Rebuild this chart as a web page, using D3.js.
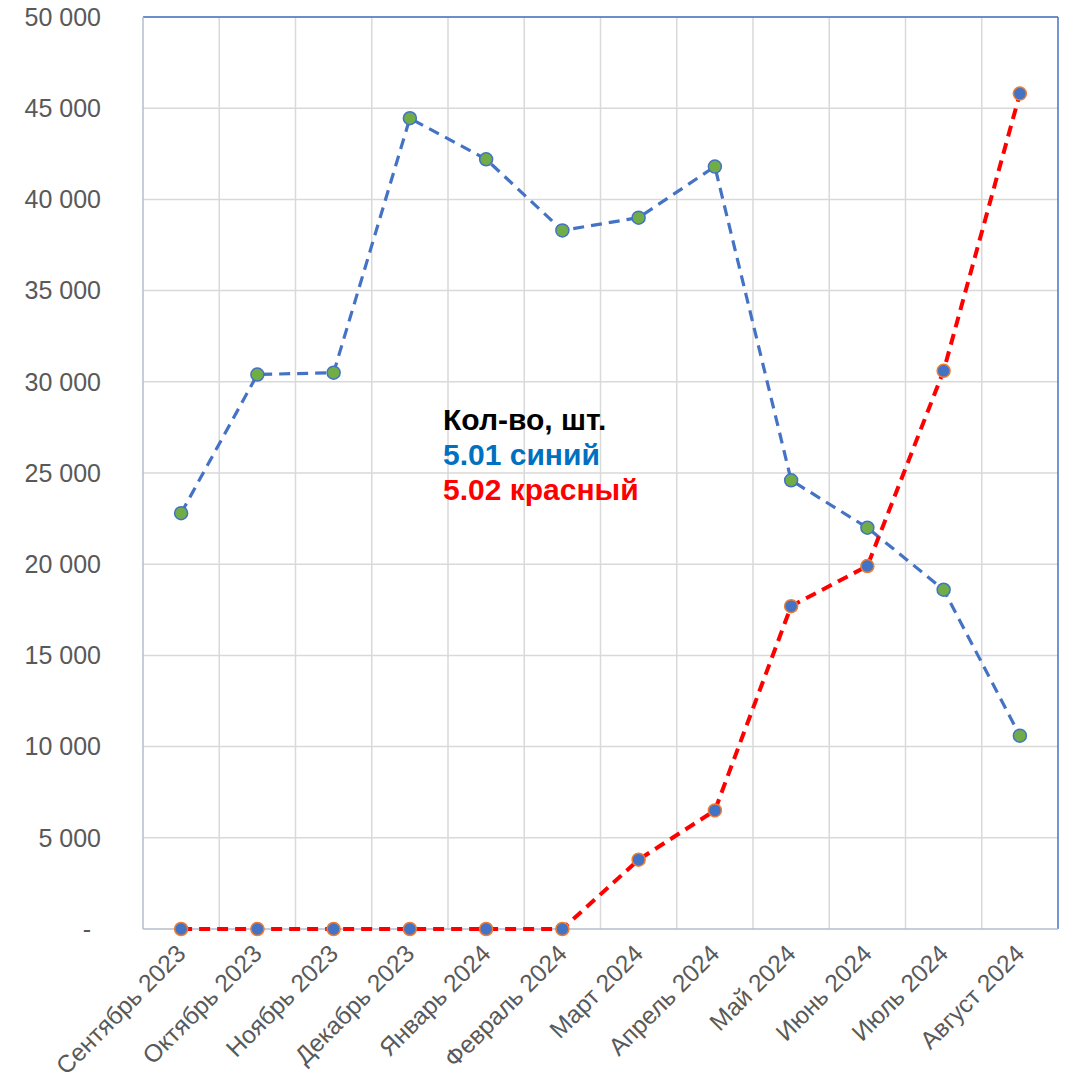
<!DOCTYPE html>
<html>
<head>
<meta charset="utf-8">
<script src="https://cdn.jsdelivr.net/npm/d3@7"></script>
<style>
  body { margin: 0; background: #fff; }
  text { font-family: "Liberation Sans", Arial, sans-serif; }
</style>
</head>
<body>
<svg id="chart"></svg>
<script>
const width = 1069;
const height = 1084;

const months = ["Сентябрь 2023", "Октябрь 2023", "Ноябрь 2023", "Декабрь 2023", "Январь 2024", "Февраль 2024",
  "Март 2024", "Апрель 2024", "Май 2024", "Июнь 2024", "Июль 2024", "Август 2024"];
const blueValues = [22800, 30400, 30500, 44450, 42200, 38300, 39000, 41800, 24600, 22000, 18600, 10600];
const redValues = [0, 0, 0, 0, 0, 0, 3800, 6500, 17700, 19900, 30600, 45800];
const yTicks = [0, 5000, 10000, 15000, 20000, 25000, 30000, 35000, 40000, 45000, 50000];
const legendLines = ["Кол-во, шт.", "5.01 синий", "5.02 красный"];

const margin = {top: 17, right: 11, bottom: 155, left: 143};

const svg = d3.select("#chart")
  .attr("width", width)
  .attr("height", height);

const x = d3.scaleBand()
  .domain(months)
  .range([margin.left, width - margin.right]);

const y = d3.scaleLinear()
  .domain([0, 50000])
  .range([height - margin.bottom, margin.top]);

// grid
svg.append("g")
  .selectAll("line")
  .data(yTicks.slice(1))
  .join("line")
  .attr("x1", margin.left).attr("x2", width - margin.right)
  .attr("y1", d => y(d)).attr("y2", d => y(d))
  .attr("stroke", "#d9d9d9").attr("stroke-width", 1.5);

svg.append("g")
  .selectAll("line")
  .data(months.slice(1))
  .join("line")
  .attr("x1", d => x(d)).attr("x2", d => x(d))
  .attr("y1", y(0)).attr("y2", y(50000))
  .attr("stroke", "#d9d9d9").attr("stroke-width", 1.5);

// frame
svg.append("line")
  .attr("x1", margin.left).attr("x2", width - margin.right)
  .attr("y1", y(50000)).attr("y2", y(50000))
  .attr("stroke", "#4472c4").attr("stroke-width", 1.5);
svg.append("line")
  .attr("x1", width - margin.right).attr("x2", width - margin.right)
  .attr("y1", y(50000)).attr("y2", y(0))
  .attr("stroke", "#4472c4").attr("stroke-width", 1.5);
svg.append("line")
  .attr("x1", margin.left).attr("x2", margin.left)
  .attr("y1", y(50000)).attr("y2", y(0))
  .attr("stroke", "#b4bccd").attr("stroke-width", 1.5);
svg.append("line")
  .attr("x1", margin.left).attr("x2", width - margin.right)
  .attr("y1", y(0)).attr("y2", y(0))
  .attr("stroke", "#b4bccd").attr("stroke-width", 1.5);

// y labels
const fmt = d => d === 0 ? "-" : d3.format(",")(d).replace(/,/g, " ");
svg.append("g")
  .selectAll("text")
  .data(yTicks)
  .join("text")
  .attr("x", d => d === 0 ? 91 : 101)
  .attr("y", d => y(d))
  .attr("dy", "0.35em")
  .attr("text-anchor", "end")
  .attr("font-size", 25)
  .attr("fill", "#595959")
  .text(fmt);

// x labels
svg.append("g")
  .selectAll("text")
  .data(months)
  .join("text")
  .attr("transform", d => `translate(${x(d) + x.bandwidth() / 2 + 6},${y(0) + 26}) rotate(-45)`)
  .attr("text-anchor", "end")
  .attr("font-size", 24.5)
  .attr("fill", "#595959")
  .text(d => d);

const cx = (d, i) => x(months[i]) + x.bandwidth() / 2;

const line = d3.line()
  .x((d, i) => cx(d, i))
  .y(d => y(d));

svg.append("path")
  .attr("d", line(blueValues))
  .attr("fill", "none")
  .attr("stroke", "#4472c4")
  .attr("stroke-width", 3.2)
  .attr("stroke-dasharray", "11,7");

svg.append("path")
  .attr("d", line(redValues))
  .attr("fill", "none")
  .attr("stroke", "#ff0000")
  .attr("stroke-width", 4)
  .attr("stroke-dasharray", "11,7");

svg.append("g")
  .selectAll("circle")
  .data(blueValues)
  .join("circle")
  .attr("cx", cx)
  .attr("cy", d => y(d))
  .attr("r", 6.5)
  .attr("fill", "#70ad47")
  .attr("stroke", "#4472c4")
  .attr("stroke-width", 1.5);

svg.append("g")
  .selectAll("circle")
  .data(redValues)
  .join("circle")
  .attr("cx", cx)
  .attr("cy", d => y(d))
  .attr("r", 6.5)
  .attr("fill", "#4472c4")
  .attr("stroke", "#ed7d31")
  .attr("stroke-width", 1.5);

// text block
const legendColors = ["#000000", "#0070c0", "#ff0000"];
svg.append("g")
  .selectAll("text")
  .data(legendLines)
  .join("text")
  .attr("x", 443)
  .attr("y", (d, i) => 430 + i * 35)
  .attr("font-size", 30)
  .attr("font-weight", "bold")
  .attr("fill", (d, i) => legendColors[i])
  .text(d => d);
</script>
</body>
</html>
